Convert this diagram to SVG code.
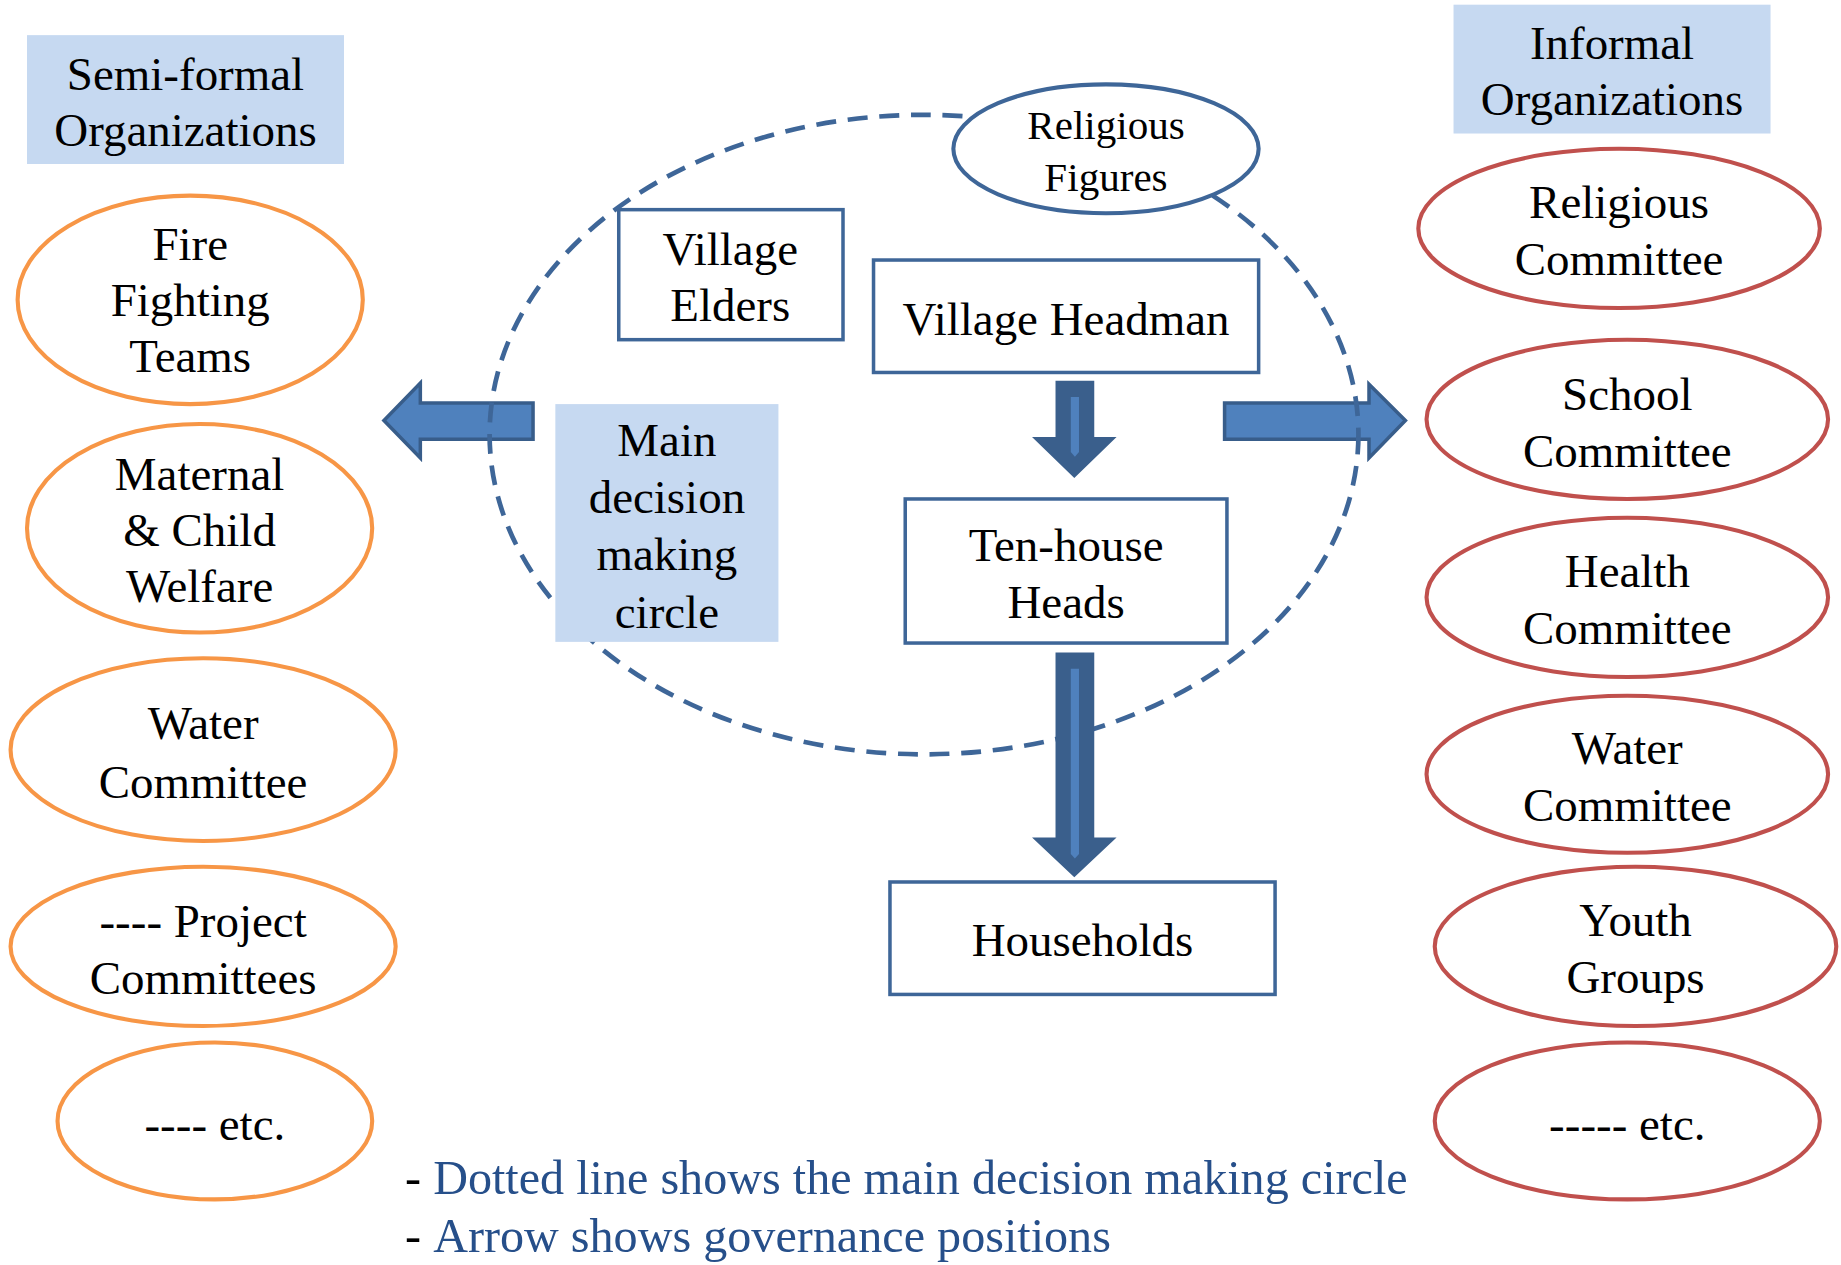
<svg xmlns="http://www.w3.org/2000/svg" width="1841" height="1265" viewBox="0 0 1841 1265">
<style>
text{font-family:"Liberation Serif","Times New Roman",serif;font-size:40px;fill:#000;text-anchor:middle}
.lbl{fill:#C6D9F1}
.org{fill:#fff;stroke:#F79646;stroke-width:3.5}
.inf{fill:#fff;stroke:#C0504D;stroke-width:3.5}
.box{fill:#fff;stroke:#3E6698;stroke-width:3}
.side{fill:#4F81BD;stroke:#385D8A;stroke-width:3;stroke-linejoin:miter}
.down{fill:#3A5F8C}
.stripe{fill:#4F81BD}
.note{text-anchor:start;font-size:41px}
.blue{fill:#264F8A}
</style>
<rect width="1841" height="1265" fill="#fff"/>
<g transform="scale(1.1741 1.1713)">
<g id="connectors">
<polygon class="side" points="454,344 358,344 358,327 327,359 358,391 358,375 454,375"/>
<polygon class="side" points="1043,344 1166,344 1166,328 1197,359 1166,391 1166,375 1043,375"/>
</g>
<g id="decision-circle">
<ellipse cx="787" cy="371" rx="370" ry="273" fill="none" stroke="#3E6698" stroke-width="4" stroke-dasharray="17 10"/>
</g>
<g id="semi-formal-label">
<rect class="lbl" x="23" y="30" width="270" height="110"/>
<text x="158" y="77">Semi-formal</text>
<text x="158" y="125">Organizations</text>
</g>
<g id="informal-label">
<rect class="lbl" x="1238" y="4" width="270" height="110"/>
<text x="1373" y="50">Informal</text>
<text x="1373" y="98">Organizations</text>
</g>
<g id="fire-fighting">
<ellipse class="org" cx="162" cy="256" rx="147" ry="89"/>
<text x="162" y="222">Fire</text>
<text x="162" y="270">Fighting</text>
<text x="162" y="318">Teams</text>
</g>
<g id="maternal-child">
<ellipse class="org" cx="170" cy="451" rx="147" ry="89"/>
<text x="170" y="418">Maternal</text>
<text x="170" y="466">&amp; Child</text>
<text x="170" y="514">Welfare</text>
</g>
<g id="water-semi">
<ellipse class="org" cx="173" cy="640" rx="164" ry="78"/>
<text x="173" y="631">Water</text>
<text x="173" y="681">Committee</text>
</g>
<g id="project-committees">
<ellipse class="org" cx="173" cy="808" rx="164" ry="68"/>
<text x="173" y="800">---- Project</text>
<text x="173" y="849">Committees</text>
</g>
<g id="etc-semi">
<ellipse class="org" cx="183" cy="957" rx="134" ry="67"/>
<text x="183" y="973">---- etc.</text>
</g>
<g id="religious-committee">
<ellipse class="inf" cx="1379" cy="195" rx="171" ry="68"/>
<text x="1379" y="186">Religious</text>
<text x="1379" y="235">Committee</text>
</g>
<g id="school-committee">
<ellipse class="inf" cx="1386" cy="358" rx="171" ry="68"/>
<text x="1386" y="350">School</text>
<text x="1386" y="399">Committee</text>
</g>
<g id="health-committee">
<ellipse class="inf" cx="1386" cy="510" rx="171" ry="68"/>
<text x="1386" y="501">Health</text>
<text x="1386" y="550">Committee</text>
</g>
<g id="water-informal">
<ellipse class="inf" cx="1386" cy="661" rx="171" ry="67"/>
<text x="1386" y="652">Water</text>
<text x="1386" y="701">Committee</text>
</g>
<g id="youth-groups">
<ellipse class="inf" cx="1393" cy="808" rx="171" ry="68"/>
<text x="1393" y="799">Youth</text>
<text x="1393" y="848">Groups</text>
</g>
<g id="etc-informal">
<ellipse class="inf" cx="1386" cy="957" rx="164" ry="67"/>
<text x="1386" y="973">----- etc.</text>
</g>
<g id="religious-figures">
<ellipse cx="942" cy="127" rx="130" ry="55" fill="#fff" stroke="#3E6698" stroke-width="3.5"/>
<text x="942" y="119" style="font-size:35px">Religious</text>
<text x="942" y="163" style="font-size:35px">Figures</text>
</g>
<g id="village-elders">
<rect class="box" x="527" y="179" width="191" height="111"/>
<text x="622" y="226">Village</text>
<text x="622" y="274">Elders</text>
</g>
<g id="village-headman">
<rect class="box" x="744" y="222" width="328" height="96"/>
<text x="908" y="286">Village Headman</text>
</g>
<g id="main-decision-label">
<rect class="lbl" x="473" y="345" width="190" height="203"/>
<text x="568" y="389">Main</text>
<text x="568" y="438">decision</text>
<text x="568" y="487">making</text>
<text x="568" y="536">circle</text>
</g>
<g id="ten-house-heads">
<rect class="box" x="771" y="426" width="274" height="123"/>
<text x="908" y="479">Ten-house</text>
<text x="908" y="528">Heads</text>
</g>
<g id="households">
<rect class="box" x="758" y="753" width="328" height="96"/>
<text x="922" y="816">Households</text>
</g>
<g id="connectors-down">
<polygon class="down" points="899,325 932,325 932,373 951,373 915,408 879,373 899,373"/>
<polygon class="stripe" points="912,339 919,339 919,386 915.5,390 912,386"/>
<polygon class="down" points="899,557 932,557 932,715 951,715 915,749 879,715 899,715"/>
<polygon class="stripe" points="912,571 919,571 919,729 915.5,733 912,729"/>
</g>
<g id="notes">
<text class="note" x="345" y="1019">- <tspan class="blue">Dotted line shows the main decision making circle</tspan></text>
<text class="note" x="345" y="1069">- <tspan class="blue">Arrow shows governance positions</tspan></text>
</g>
</g>
</svg>
